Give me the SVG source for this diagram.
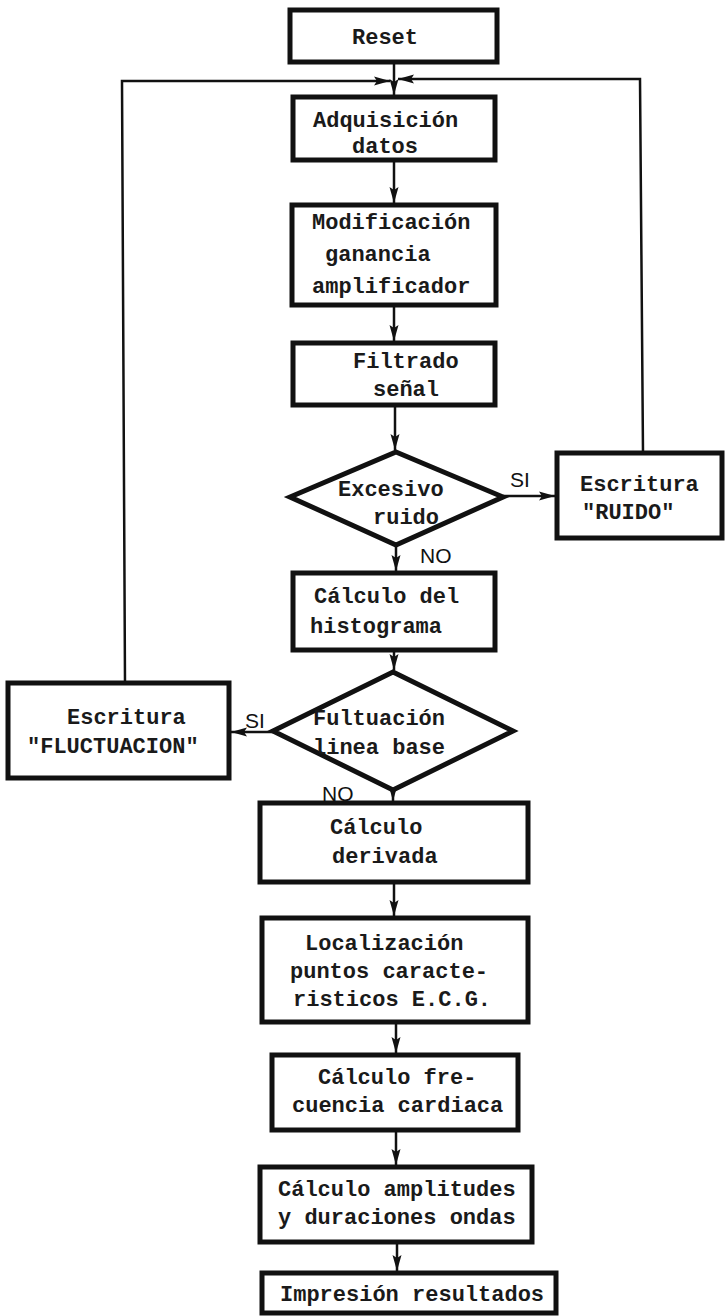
<svg xmlns="http://www.w3.org/2000/svg" width="725" height="1316" viewBox="0 0 725 1316">
<style>
.box{fill:#fff;stroke:#111;stroke-width:5;stroke-linejoin:miter}
.dia{fill:#fff;stroke:#111;stroke-width:5;stroke-linejoin:miter}
.t{font-family:"Liberation Mono","DejaVu Sans Mono",monospace;font-size:22px;font-weight:bold;fill:#1a1a1a}
.lab{font-family:"Liberation Sans",Arial,sans-serif;font-size:21px;fill:#111}
.c{fill:none;stroke:#111;stroke-width:2.5}
</style>
<defs>
<marker id="ah" viewBox="0 0 16 10" refX="16" refY="5" markerWidth="16" markerHeight="10" markerUnits="userSpaceOnUse" orient="auto">
<path d="M0,0.5 L16,5 L0,9.5 L3,5 Z" fill="#111"/>
</marker>
</defs>
<rect width="725" height="1316" fill="#fff"/>
<g id="connectors">
<path class="c" d="M394,62 V95" marker-end="url(#ah)"/>
<path class="c" d="M125,683 L122,81 H390" marker-end="url(#ah)"/>
<path class="c" d="M643,453 L640,79 H398" marker-end="url(#ah)"/>
<path class="c" d="M394,160 V203" marker-end="url(#ah)"/>
<path class="c" d="M394,305 V341" marker-end="url(#ah)"/>
<path class="c" d="M395,405 V450" marker-end="url(#ah)"/>
<path class="c" d="M503,496 H555" marker-end="url(#ah)"/>
<path class="c" d="M396,545 V571" marker-end="url(#ah)"/>
<path class="c" d="M394,650 V670" marker-end="url(#ah)"/>
<path class="c" d="M273,732 H231" marker-end="url(#ah)"/>
<path class="c" d="M393,790 V801" marker-end="url(#ah)"/>
<path class="c" d="M394,882 V916" marker-end="url(#ah)"/>
<path class="c" d="M396,1022 V1053" marker-end="url(#ah)"/>
<path class="c" d="M396,1130 V1165" marker-end="url(#ah)"/>
<path class="c" d="M397,1242 V1271" marker-end="url(#ah)"/>
</g>
<g id="reset"><rect class="box" x="290" y="10" width="207" height="52"/><text class="t" x="352" y="44">Reset</text></g>
<g id="adquisicion"><rect class="box" x="293" y="97" width="202" height="63"/><text class="t" x="313" y="127">Adquisición</text><text class="t" x="352" y="153">datos</text></g>
<g id="modificacion"><rect class="box" x="292" y="205" width="204" height="100"/><text class="t" x="312" y="229">Modificación</text><text class="t" x="325" y="261">ganancia</text><text class="t" x="312" y="293">amplificador</text></g>
<g id="filtrado"><rect class="box" x="293" y="343" width="202" height="62"/><text class="t" x="353" y="368">Filtrado</text><text class="t" x="373" y="396">señal</text></g>
<g id="excesivo"><polygon class="dia" points="396,452 503,497 396,545 290,497"/><text class="t" x="338" y="496">Excesivo</text><text class="t" x="373" y="524">ruido</text></g>
<g id="ruido"><rect class="box" x="557" y="453" width="165" height="85"/><text class="t" x="580" y="491">Escritura</text><text class="t" x="582" y="519">"RUIDO"</text></g>
<g id="histograma"><rect class="box" x="293" y="573" width="202" height="77"/><text class="t" x="314" y="603">Cálculo del</text><text class="t" x="310" y="633">histograma</text></g>
<g id="fluctuacion-dec"><polygon class="dia" points="393,672 513,731 393,790 273,731"/><text class="t" x="313" y="725">Fultuación</text><text class="t" x="313" y="754">linea base</text></g>
<g id="fluctuacion"><rect class="box" x="8" y="683" width="221" height="95"/><text class="t" x="67" y="724">Escritura</text><text class="t" x="27" y="753">"FLUCTUACION"</text></g>
<g id="derivada"><rect class="box" x="260" y="803" width="268" height="79"/><text class="t" x="330" y="834">Cálculo</text><text class="t" x="332" y="863">derivada</text></g>
<g id="localizacion"><rect class="box" x="262" y="918" width="266" height="104"/><text class="t" x="305" y="950">Localización</text><text class="t" x="290" y="978">puntos caracte-</text><text class="t" x="293" y="1006">risticos E.C.G.</text></g>
<g id="frecuencia"><rect class="box" x="272" y="1055" width="246" height="75"/><text class="t" x="318" y="1084">Cálculo fre-</text><text class="t" x="292" y="1112">cuencia cardiaca</text></g>
<g id="amplitudes"><rect class="box" x="260" y="1167" width="272" height="75"/><text class="t" x="278" y="1196">Cálculo amplitudes</text><text class="t" x="278" y="1224">y duraciones ondas</text></g>
<g id="impresion"><rect class="box" x="262" y="1273" width="294" height="40"/><text class="t" x="280" y="1301">Impresión resultados</text></g>
<g id="labels"><text class="lab" x="510" y="487">SI</text><text class="lab" x="420" y="563">NO</text><text class="lab" x="245" y="728">SI</text><text class="lab" x="322" y="801">NO</text></g>
</svg>
